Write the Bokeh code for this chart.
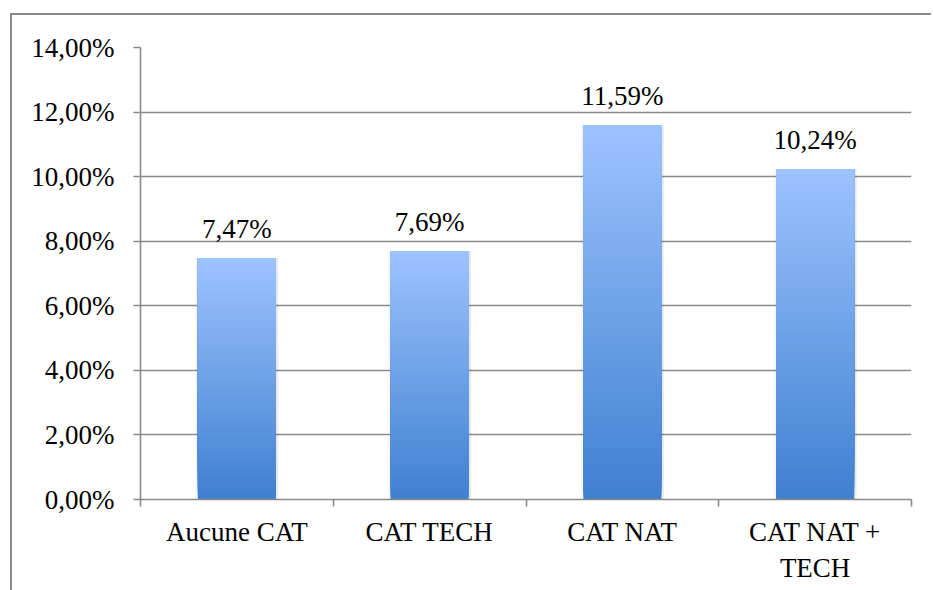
from bokeh.plotting import figure
from bokeh.models import FixedTicker, ColumnDataSource
from bokeh.core.properties import value
from bokeh.embed import file_html
from bokeh.resources import INLINE

categories = ["Aucune CAT", "CAT TECH", "CAT NAT", "CAT NAT + TECH"]
category_labels = ["Aucune CAT", "CAT TECH", "CAT NAT", "CAT NAT +\nTECH"]
values = [7.47, 7.69, 11.59, 10.24]
value_labels = ["7,47%", "7,69%", "11,59%", "10,24%"]
y_ticks = [0, 2, 4, 6, 8, 10, 12, 14]
y_tick_labels = ["0,00%", "2,00%", "4,00%", "6,00%", "8,00%", "10,00%", "12,00%", "14,00%"]

FONT = "Liberation Serif"
FS = "27px"
GRID = "#8a8a8a"
TOP_RGB = (157, 195, 255)
BOT_RGB = (63, 128, 208)
N = 80

W, H = 921, 577
p = figure(width=W, height=H, output_backend="svg", toolbar_location=None,
           x_range=(0, len(categories)), y_range=(0, 14),
           min_border_left=128, min_border_right=22, min_border_top=32, min_border_bottom=93)
p.outline_line_color = None
p.background_fill_color = "white"
p.border_fill_color = "white"
# outer chart frame (top and left edges visible, cropped at right/bottom)
p.styles = {"border-top": "2px solid #8a8a8a", "border-left": "2px solid #8a8a8a",
            "margin-left": "10px", "margin-top": "13px"}

# gridlines
p.xgrid.visible = False
p.ygrid.ticker = FixedTicker(ticks=y_ticks)
p.ygrid.grid_line_color = GRID
p.ygrid.grid_line_width = 1.6

centers = [i + 0.5 for i in range(len(categories))]

# soft bar shadows
p.vbar(x=centers, top=values, bottom=-0.06, width=0.43,
       fill_color="#000000", fill_alpha=0.035, line_color=None)
p.vbar(x=[c + 0.006 for c in centers], top=values, bottom=-0.04, width=0.418,
       fill_color="#000000", fill_alpha=0.05, line_color=None)

# gradient bars, built from overlapping slices of each value
xs, bots, tops, cols = [], [], [], []
for c, v in zip(centers, values):
    for i in range(N):
        f = (i + 0.5) / N
        r = round(BOT_RGB[0] + (TOP_RGB[0] - BOT_RGB[0]) * f)
        g = round(BOT_RGB[1] + (TOP_RGB[1] - BOT_RGB[1]) * f)
        b = round(BOT_RGB[2] + (TOP_RGB[2] - BOT_RGB[2]) * f)
        xs.append(c)
        bots.append(v * i / N)
        tops.append(v)
        cols.append("#%02x%02x%02x" % (r, g, b))
p.vbar(x=xs, bottom=bots, top=tops, width=0.405, fill_color=cols, line_color=None)

# value labels
src = ColumnDataSource(dict(x=centers, y=values, t=value_labels))
p.text(x="x", y="y", text="t", source=src, text_align="center", text_baseline="bottom",
       y_offset=-14, text_font=value(FONT), text_font_size=FS, text_color="black")

# y axis
ya = p.yaxis[0]
ya.ticker = FixedTicker(ticks=y_ticks)
ya.major_label_overrides = {t: l for t, l in zip(y_ticks, y_tick_labels)}
ya.axis_line_color = GRID
ya.axis_line_width = 1.6
ya.major_tick_line_color = GRID
ya.major_tick_line_width = 1.6
ya.major_tick_out = 7
ya.major_tick_in = 0
ya.minor_tick_line_color = None
ya.major_label_standoff = 19
ya.major_label_text_font = FONT
ya.major_label_text_font_size = FS
ya.major_label_text_color = "black"

# x axis: labels at centers, tick marks at category boundaries
xa = p.xaxis[0]
xa.ticker = FixedTicker(ticks=centers, minor_ticks=list(range(len(categories) + 1)))
xa.major_label_overrides = {c: l for c, l in zip(centers, category_labels)}
xa.axis_line_color = GRID
xa.axis_line_width = 1.6
xa.major_tick_line_color = None
xa.major_tick_out = 0
xa.minor_tick_line_color = GRID
xa.minor_tick_line_width = 1.6
xa.minor_tick_out = 7
xa.minor_tick_in = 0
xa.major_label_standoff = 10
xa.major_label_text_font = FONT
xa.major_label_text_font_size = FS
xa.major_label_text_color = "black"

open("out.html", "w").write(file_html(p, INLINE))
